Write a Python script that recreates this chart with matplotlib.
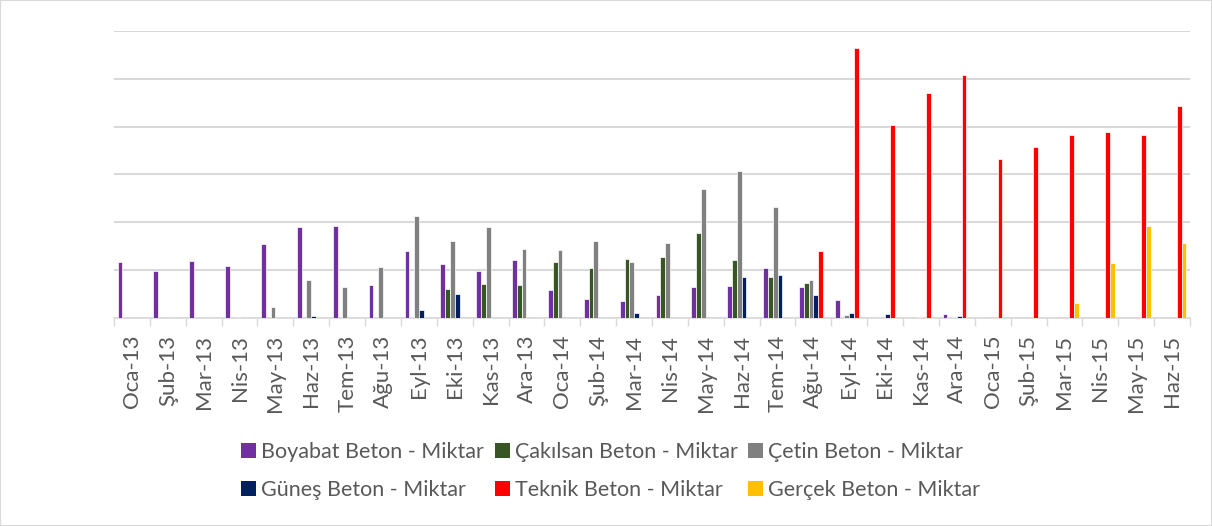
import matplotlib
matplotlib.use("Agg")
import matplotlib.pyplot as plt
import numpy as np
from matplotlib.patches import Rectangle

months = ['Oca-13', 'Şub-13', 'Mar-13', 'Nis-13', 'May-13', 'Haz-13', 'Tem-13', 'Ağu-13',
          'Eyl-13', 'Eki-13', 'Kas-13', 'Ara-13', 'Oca-14', 'Şub-14', 'Mar-14', 'Nis-14',
          'May-14', 'Haz-14', 'Tem-14', 'Ağu-14', 'Eyl-14', 'Eki-14', 'Kas-14', 'Ara-14',
          'Oca-15', 'Şub-15', 'Mar-15', 'Nis-15', 'May-15', 'Haz-15']

boyabat = [117, 99, 120, 109, 154, 190, 192, 69, 140, 112, 99, 121, 59, 40, 35, 49, 65, 67,
           104, 65, 38, 0, 0, 8, 0, 0, 0, 0, 0, 0]
cakilsan = [0, 0, 0, 0, 0, 0, 0, 3, 3, 60, 72, 69, 118, 104, 123, 128, 178, 121,
            85, 74, 0, 3, 0, 3, 0, 0, 0, 0, 0, 0]
cetin = [0, 0, 0, 3, 22, 79, 65, 106, 214, 162, 190, 144, 142, 160, 117, 157, 269, 307,
         233, 80, 7, 0, 3, 3, 0, 0, 0, 0, 0, 0]
gunes = [0, 3, 3, 0, 0, 5, 0, 3, 16, 51, 0, 0, 3, 3, 10, 3, 3, 85,
         90, 49, 10, 8, 0, 5, 0, 0, 0, 0, 0, 0]
teknik = [0, 0, 0, 0, 0, 0, 0, 0, 0, 0, 0, 0, 0, 0, 0, 0, 0, 0,
          0, 140, 565, 404, 471, 507, 333, 358, 382, 388, 382, 443]
gercek = [0, 0, 0, 0, 0, 0, 0, 0, 0, 0, 0, 0, 0, 0, 0, 0, 0, 0,
          0, 0, 0, 0, 0, 0, 0, 0, 32, 115, 192, 157]

series_names = ['Boyabat Beton - Miktar', 'Çakılsan Beton - Miktar', 'Çetin Beton - Miktar',
                'Güneş Beton - Miktar', 'Teknik Beton - Miktar', 'Gerçek Beton - Miktar']
series_vals = [boyabat, cakilsan, cetin, gunes, teknik, gercek]
colors = ['#7030A0', '#375623', '#808080', '#002060', '#FF0000', '#FFC000']

plt.rcParams['font.family'] = ['Lato', 'DejaVu Sans']

W, H = 1212, 526
fig = plt.figure(figsize=(W / 100, H / 100), dpi=100)
ax = fig.add_axes([114 / W, 1 - 318 / H, (1190 - 114) / W, (318 - 31) / H])

x = np.arange(len(months))
w = 0.8 / 6
for i, (vals, c) in enumerate(zip(series_vals, colors)):
    ax.bar(x + (i - 2.5) * w, vals, width=w, color=c, edgecolor='white', linewidth=0.5, zorder=3)

ax.set_xlim(-0.5, len(months) - 0.5)
ax.set_ylim(0, 600)
ax.set_yticks(np.arange(0, 601, 100))
ax.yaxis.grid(True, color='#D9D9D9', linewidth=1.5, zorder=0)
ax.tick_params(axis='y', left=False, labelleft=False)
for s in ['top', 'right', 'left']:
    ax.spines[s].set_visible(False)
ax.spines['bottom'].set_color('#D9D9D9')
ax.spines['bottom'].set_linewidth(1.2)

ax.set_xticks(x)
ax.set_xticklabels(months, rotation=90, fontsize=16, color='#595959')
ax.set_xticks(np.arange(-0.5, len(months), 1), minor=True)
ax.tick_params(axis='x', which='major', length=0, pad=12)
ax.tick_params(axis='x', which='minor', length=6, color='#D9D9D9', width=1)

# legend laid out as in the reference: 3 columns x 2 rows
col_x = [241, 495, 748]
row_y = [450, 488]
sq = 15
for k, (name, c) in enumerate(zip(series_names, colors)):
    r, col = divmod(k, 3)
    x0, yc = col_x[col], row_y[r]
    fig.patches.append(Rectangle((x0 / W, 1 - (yc + sq / 2) / H), sq / W, sq / H,
                                 transform=fig.transFigure, facecolor=c, edgecolor='none'))
    fig.text((x0 + sq + 5) / W, 1 - yc / H, name, fontsize=15.5, color='#595959',
             ha='left', va='center_baseline')

fig.patches.append(Rectangle((0, 0), 1, 1, transform=fig.transFigure, fill=False,
                             edgecolor='#D9D9D9', linewidth=1.5))

fig.savefig('out.png', dpi=100)
